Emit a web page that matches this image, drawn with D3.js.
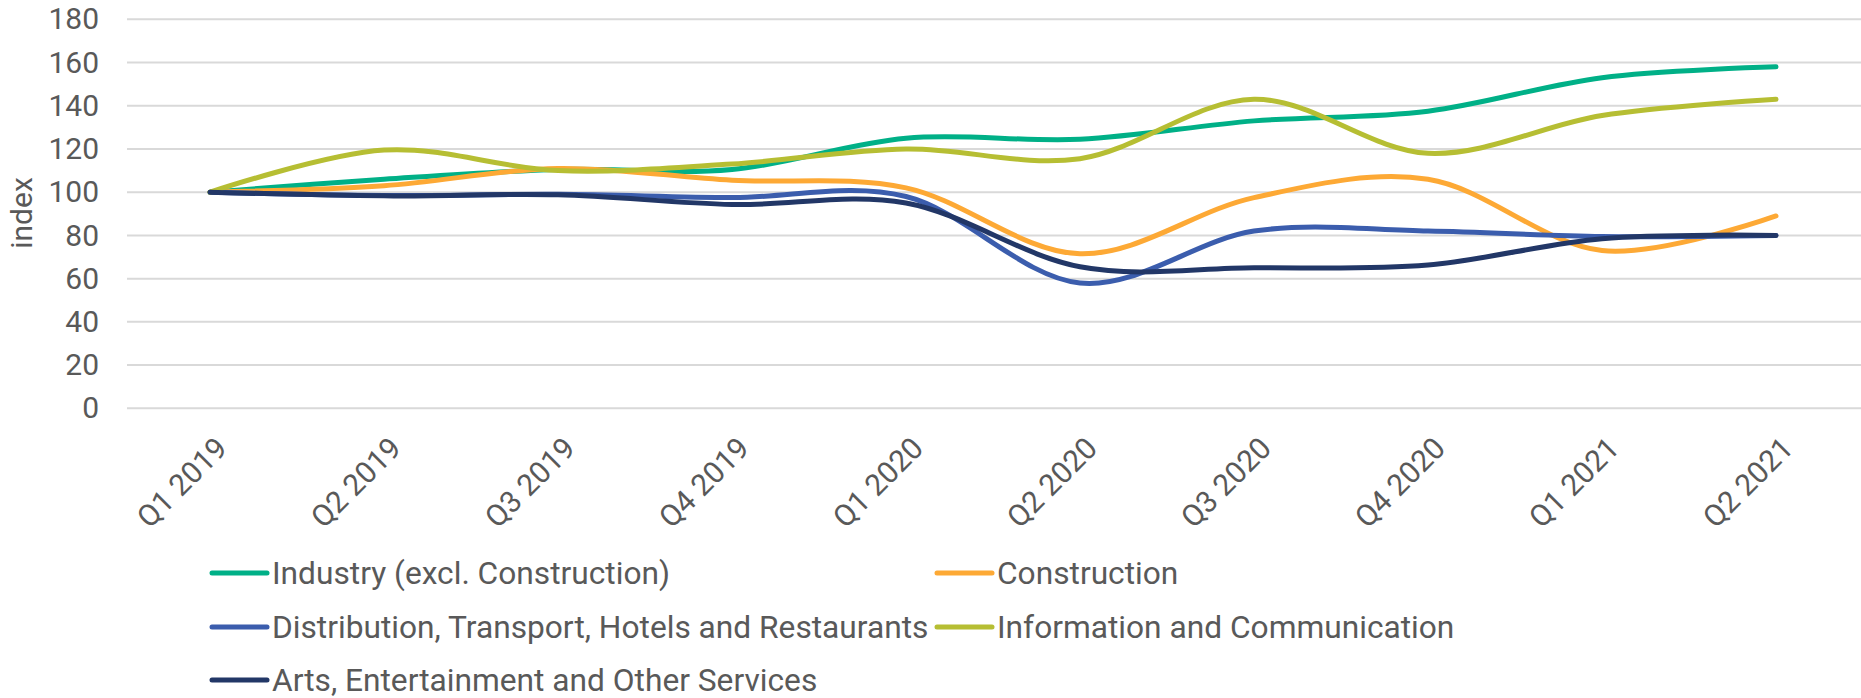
<!DOCTYPE html>
<html>
<head>
<meta charset="utf-8">
<script src="https://cdn.jsdelivr.net/npm/d3@7"></script>
<style>
  html, body { margin: 0; padding: 0; background: #fff; }
  svg text { font-family: Roboto, "Noto Sans", sans-serif; fill: #595959; }
</style>
</head>
<body>
<div id="chart"></div>
<script>
// quarters on the x axis
const quarters = ["Q1 2019", "Q2 2019", "Q3 2019", "Q4 2019", "Q1 2020",
                  "Q2 2020", "Q3 2020", "Q4 2020", "Q1 2021", "Q2 2021"];

// index values (Q1 2019 = 100)
const industry      = [100, 106, 110.5, 110.5, 125, 124.5, 133, 137.5, 153, 158];
const construction  = [100, 103, 111, 105.5, 102, 71.5, 97.5, 106, 73, 89];
const distribution  = [100, 98.5, 99, 97.5, 98, 58, 82, 82, 79.5, 80];
const infoComm      = [100, 119.5, 110, 113, 120, 115.5, 143, 118, 135.5, 143];
const arts          = [100, 98.3, 98.8, 94.3, 95, 65.5, 65, 66.3, 78.5, 80];

const seriesNames = [
  "Industry (excl. Construction)",
  "Construction",
  "Distribution, Transport, Hotels and Restaurants",
  "Information and Communication",
  "Arts, Entertainment and Other Services"
];
const seriesValues = [industry, construction, distribution, infoComm, arts];
const seriesColors = ["#00B087", "#FDA935", "#3B5DAD", "#B6BE33", "#223767"];

const yTicks = [0, 20, 40, 60, 80, 100, 120, 140, 160, 180];

// =====================
// SVG SETUP
// =====================
const W = 1861, H = 698;
const svg = d3.select("#chart").append("svg")
  .attr("width", W)
  .attr("height", H);

const gridLeft = 127, gridRight = 1861;

const x = d3.scalePoint()
  .domain(quarters)
  .range([210, 1776]);

const y = d3.scaleLinear()
  .domain([0, 180])
  .range([408.3, 19.3]);

// =====================
// GRID + Y AXIS
// =====================
svg.append("g")
  .selectAll("line")
  .data(yTicks)
  .join("line")
  .attr("x1", gridLeft)
  .attr("x2", gridRight)
  .attr("y1", d => y(d))
  .attr("y2", d => y(d))
  .attr("stroke", "#D9D9D9")
  .attr("stroke-width", 2);

const yAxis = svg.append("g")
  .attr("transform", `translate(${gridLeft},0)`)
  .call(d3.axisLeft(y).tickValues(yTicks).tickSize(0).tickPadding(28));
yAxis.select(".domain").remove();
yAxis.selectAll("text")
  .style("font-size", "30px")
  .attr("fill", "#595959");

svg.append("text")
  .attr("transform", "translate(32,213) rotate(-90)")
  .attr("text-anchor", "middle")
  .style("font-size", "30px")
  .text("index");

// =====================
// X LABELS
// =====================
svg.append("g")
  .selectAll("text")
  .data(quarters)
  .join("text")
  .attr("transform", d => `translate(${x(d) + 19},450) rotate(-45)`)
  .attr("text-anchor", "end")
  .style("font-size", "30px")
  .text(d => d);

// =====================
// LINES
// =====================
const line = d3.line()
  .x((d, i) => x(quarters[i]))
  .y(d => y(d))
  .curve(d3.curveCardinal.tension(0));

svg.append("g")
  .selectAll("path")
  .data(seriesValues)
  .join("path")
  .attr("d", d => line(d))
  .attr("fill", "none")
  .attr("stroke", (d, i) => seriesColors[i])
  .attr("stroke-width", 5)
  .attr("stroke-linecap", "round")
  .attr("stroke-linejoin", "round");

// =====================
// LEGEND
// =====================
const legendCols = [212, 937];
const legendRows = [573, 627, 680];

const legend = svg.append("g")
  .selectAll("g")
  .data(seriesNames)
  .join("g")
  .attr("transform", (d, i) => `translate(${legendCols[i % 2]},${legendRows[Math.floor(i / 2)]})`);

legend.append("line")
  .attr("x1", 0)
  .attr("x2", 55)
  .attr("stroke", (d, i) => seriesColors[i])
  .attr("stroke-width", 5)
  .attr("stroke-linecap", "round");

legend.append("text")
  .attr("x", 60)
  .attr("dy", "0.35em")
  .style("font-size", "31.7px")
  .text(d => d);
</script>
</body>
</html>
